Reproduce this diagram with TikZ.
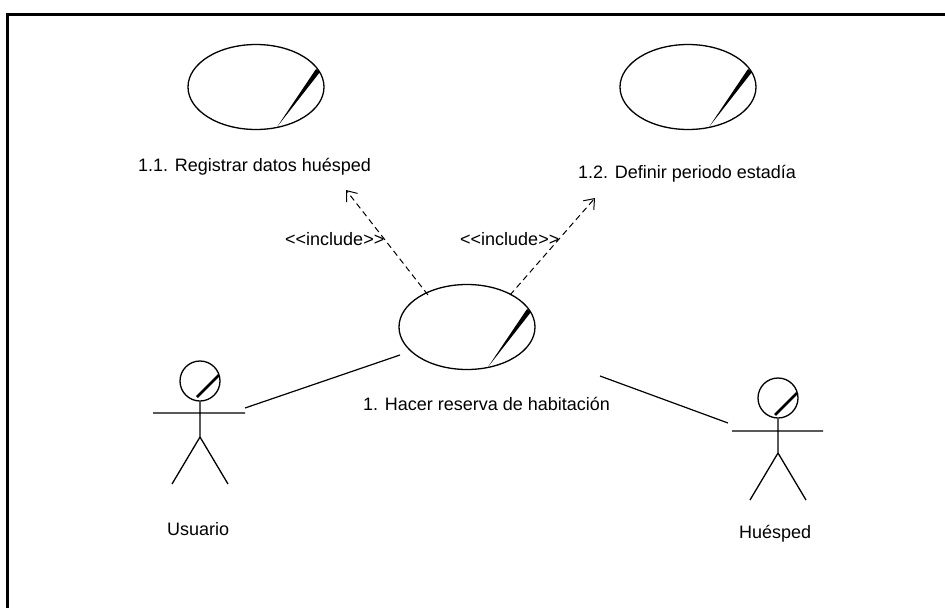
\documentclass[tikz,border=0pt]{standalone}
\usepackage{fontspec}
\setmainfont{Liberation Sans}
\usetikzlibrary{shapes.geometric,arrows.meta}
\begin{document}
\begin{tikzpicture}[x=1pt,y=-1pt,
  uc/.style={draw,ellipse,line width=1.3pt,minimum width=136pt,minimum height=85pt,inner sep=0pt},
  lbl/.style={font=\fontsize{18}{21}\selectfont,inner sep=0pt,anchor=base west},
  assoc/.style={line width=1.2pt},
  incl/.style={line width=1pt,dash pattern=on 6pt off 4pt,-{Straight Barb[length=9pt,width=14pt,line width=1pt]}},
  stick/.style={line width=1.3pt},
  head/.style={draw,circle,line width=1.3pt,minimum size=40pt,inner sep=0pt}]
\useasboundingbox (0,0) rectangle (945,608);
% frame
\draw[line width=3pt] (6,14) -- (945,14);
\draw[line width=3pt] (7,14) -- (7,608);
% use cases
\node[uc] (uc1) at (256,87) {};
\node[uc] (uc2) at (688,87) {};
\node[uc] (uc3) at (467,327) {};
\foreach \n in {uc1,uc2,uc3}{
  \fill ([shift={(64,-15)}]\n.center) -- ([shift={(60,-18)}]\n.center) -- ([shift={(21,40)}]\n.center) -- cycle;
}
\node[lbl] (t1) at (138,171) {1.1. Registrar datos huésped};
\node[lbl] (t2) at (578,178) {1.2. Definir periodo estadía};
\node[lbl] (t3) at (363,410) {1. Hacer reserva de habitación};
% actors
\node[head] (h1) at (200,381) {};
\draw[line width=2.5pt] (197,397) -- (219,375);
\coordinate (w1) at (200,437);
\coordinate (al1) at (153,413);
\coordinate (ar1) at (245,413);
\coordinate (fl1) at (172,484);
\coordinate (fr1) at (228,484);
\draw[stick] (h1.south) -- (w1) (al1) -- (ar1) (fl1) -- (w1) -- (fr1);
\node[lbl] (a1) at (167,535) {Usuario};
\node[head] (h2) at (778,398) {};
\draw[line width=2.5pt] (775,415) -- (797,393);
\coordinate (w2) at (778,453);
\coordinate (al2) at (732,431);
\coordinate (ar2) at (823,431);
\coordinate (fl2) at (750,500);
\coordinate (fr2) at (806,500);
\draw[stick] (h2.south) -- (w2) (al2) -- (ar2) (fl2) -- (w2) -- (fr2);
\node[lbl] (a2) at (739,538) {Huésped};
% associations
\coordinate (s1) at (245,408);
\coordinate (e1) at (400,355);
\draw[assoc] (s1) -- (e1);
\coordinate (s2) at (600,376);
\coordinate (e2) at (728,423);
\draw[assoc] (s2) -- (e2);
% includes
\coordinate (i1s) at (428,295);
\coordinate (i1e) at (346,190);
\coordinate (i2s) at (510,295);
\coordinate (i2e) at (595,198);
\draw[incl] (i1s) -- (i1e);
\draw[incl] (i2s) -- (i2e);
\node[lbl] (l1) at (285,245) {<{}<include>{}>};
\node[lbl] (l2) at (460,245) {<{}<include>{}>};
\end{tikzpicture}
\end{document}
